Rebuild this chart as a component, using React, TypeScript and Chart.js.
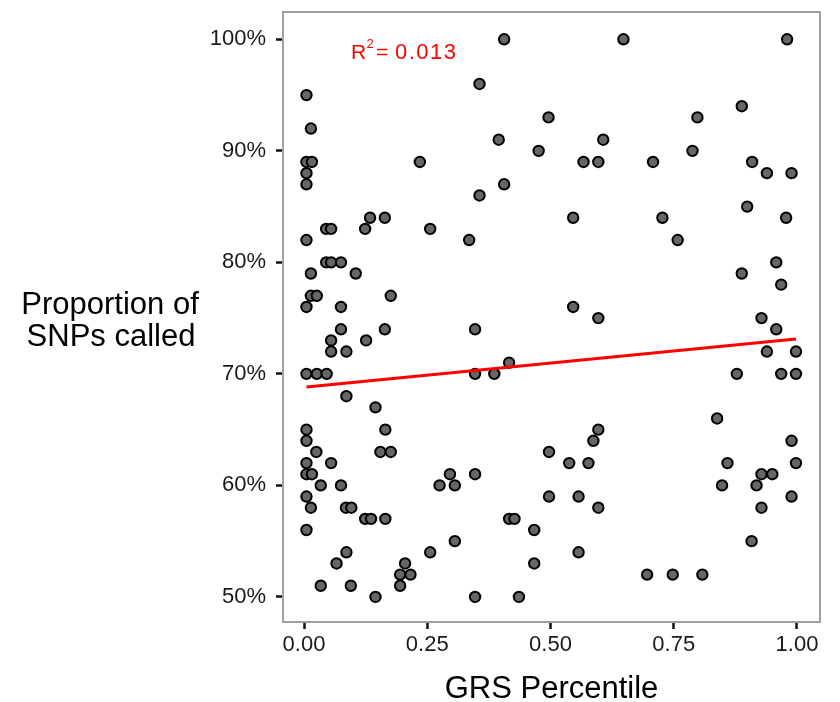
import React, { useEffect, useRef } from "react";
import { Chart, registerables } from "chart.js";

Chart.register(...registerables);

// GRS percentile (x) and proportion of SNPs called in % (y)
const grsPercentile: number[] = [
  0.406, 0.648, 0.98,
  0.356,
  0.005,
  0.888,
  0.496, 0.798,
  0.014,
  0.395, 0.607,
  0.476, 0.788,
  0.005, 0.016, 0.235, 0.567, 0.597, 0.708, 0.909,
  0.005, 0.939, 0.989,
  0.005, 0.406,
  0.356,
  0.899,
  0.134, 0.164, 0.546, 0.727, 0.978,
  0.045, 0.055, 0.124, 0.256,
  0.005, 0.335, 0.758,
  0.045, 0.055, 0.075, 0.958,
  0.014, 0.105, 0.888,
  0.968,
  0.014, 0.026, 0.176,
  0.005, 0.075, 0.546,
  0.597, 0.928,
  0.075, 0.164, 0.347, 0.958,
  0.055, 0.126,
  0.055, 0.086, 0.939, 0.998,
  0.416,
  0.005, 0.026, 0.046, 0.347, 0.386, 0.878, 0.968, 0.998,
  0.086,
  0.145,
  0.838,
  0.005, 0.165, 0.597,
  0.005, 0.587, 0.989,
  0.025, 0.155, 0.176, 0.497,
  0.005, 0.055, 0.538, 0.577, 0.859, 0.998,
  0.005, 0.016, 0.296, 0.347, 0.928, 0.95,
  0.034, 0.075, 0.275, 0.306, 0.848, 0.918,
  0.005, 0.497, 0.557, 0.989,
  0.014, 0.085, 0.096, 0.597, 0.928,
  0.124, 0.136, 0.165, 0.416, 0.427,
  0.005, 0.467,
  0.306, 0.908,
  0.086, 0.256, 0.557,
  0.066, 0.205, 0.467,
  0.195, 0.216, 0.696, 0.748, 0.808,
  0.034, 0.095, 0.195,
  0.145, 0.347, 0.436,
];

const snpsCalled: number[] = [
  100, 100, 100,
  96,
  95,
  94,
  93, 93,
  92,
  91, 91,
  90, 90,
  89, 89, 89, 89, 89, 89, 89,
  88, 88, 88,
  87, 87,
  86,
  85,
  84, 84, 84, 84, 84,
  83, 83, 83, 83,
  82, 82, 82,
  80, 80, 80, 80,
  79, 79, 79,
  78,
  77, 77, 77,
  76, 76, 76,
  75, 75,
  74, 74, 74, 74,
  73, 73,
  72, 72, 72, 72,
  71,
  70, 70, 70, 70, 70, 70, 70, 70,
  68,
  67,
  66,
  65, 65, 65,
  64, 64, 64,
  63, 63, 63, 63,
  62, 62, 62, 62, 62, 62,
  61, 61, 61, 61, 61, 61,
  60, 60, 60, 60, 60, 60,
  59, 59, 59, 59,
  58, 58, 58, 58, 58,
  57, 57, 57, 57, 57,
  56, 56,
  55, 55,
  54, 54, 54,
  53, 53, 53,
  52, 52, 52, 52, 52,
  51, 51, 51,
  50, 50, 50,
];

const xTicks: number[] = [0, 0.25, 0.5, 0.75, 1];
const yTicks: number[] = [50, 60, 70, 80, 90, 100];

// linear fit reported in the figure
const fitIntercept = 68.8;
const fitSlope = 4.33;
const rSquaredLabel = "0.013";

const xTitle = "GRS Percentile";
const yTitleLines: string[] = ["Proportion of", "SNPs called"];

const FONT = "'Liberation Sans', Arial, Helvetica, sans-serif";

export default function App() {
  const canvasRef = useRef<HTMLCanvasElement | null>(null);

  useEffect(() => {
    const canvas = canvasRef.current;
    if (!canvas) return;

    const points = grsPercentile.map((x, i) => ({ x, y: snpsCalled[i] }));
    const xMin = Math.min(...grsPercentile);
    const xMax = Math.max(...grsPercentile);
    const fitLine = [
      { x: xMin, y: fitIntercept + fitSlope * xMin },
      { x: xMax, y: fitIntercept + fitSlope * xMax },
    ];

    const decorPlugin = {
      id: "decor",
      afterDatasetsDraw(chart: any) {
        const { ctx, chartArea } = chart;
        ctx.save();
        // panel border
        ctx.strokeStyle = "#a0a0a0";
        ctx.lineWidth = 2;
        ctx.strokeRect(
          chartArea.left,
          chartArea.top,
          chartArea.right - chartArea.left,
          chartArea.bottom - chartArea.top
        );
        // R^2 annotation
        ctx.fillStyle = "#ff0000";
        ctx.textBaseline = "alphabetic";
        ctx.textAlign = "left";
        ctx.font = `21px ${FONT}`;
        ctx.fillText("R", 351, 59);
        ctx.font = `13px ${FONT}`;
        ctx.fillText("2", 366.5, 48);
        ctx.font = `21px ${FONT}`;
        ctx.fillText("=", 376, 59);
        ctx.font = `22px ${FONT}`;
        (ctx as any).letterSpacing = "1.5px";
        ctx.fillText(rSquaredLabel, 395, 59);
        (ctx as any).letterSpacing = "0px";
        // axis titles
        ctx.fillStyle = "#000000";
        ctx.font = `31px ${FONT}`;
        ctx.textAlign = "center";
        ctx.fillText(xTitle, (chartArea.left + chartArea.right) / 2, 698);
        ctx.fillText(yTitleLines[0], 110, 314);
        ctx.fillText(yTitleLines[1], 111, 346);
        ctx.restore();
      },
    };

    const chart = new Chart(canvas, {
      type: "scatter",
      data: {
        datasets: [
          {
            type: "line",
            data: fitLine,
            borderColor: "#ff0000",
            borderWidth: 3,
            pointRadius: 0,
            fill: false,
          } as any,
          {
            data: points,
            backgroundColor: "#666666",
            borderColor: "#000000",
            borderWidth: 2,
            pointRadius: 5.2,
            pointHoverRadius: 5.2,
          },
        ],
      },
      options: {
        responsive: false,
        animation: false,
        events: [],
        layout: { padding: { left: 0, top: 12, right: 20, bottom: 0 } },
        plugins: {
          legend: { display: false },
          tooltip: { enabled: false },
        },
        scales: {
          x: {
            type: "linear",
            min: -0.0426,
            max: 1.0467,
            afterBuildTicks: (scale: any) => {
              scale.ticks = xTicks.map((v) => ({ value: v }));
            },
            afterFit: (scale: any) => {
              scale.height = 80;
              scale.paddingLeft = 0;
              scale.paddingRight = 0;
            },
            ticks: {
              callback: (v: any) => Number(v).toFixed(2),
              color: "#1a1a1a",
              font: { family: FONT, size: 22 },
              padding: 3,
              maxRotation: 0,
              autoSkip: false,
            },
            grid: {
              display: true,
              drawOnChartArea: false,
              drawTicks: true,
              tickLength: 7,
              tickWidth: 2.5,
              tickColor: "#111111",
            },
            border: { display: false },
          },
          y: {
            type: "linear",
            min: 47.75,
            max: 102.45,
            afterBuildTicks: (scale: any) => {
              scale.ticks = yTicks.map((v) => ({ value: v }));
            },
            afterFit: (scale: any) => {
              scale.width = 283;
              scale.paddingTop = 0;
              scale.paddingBottom = 0;
            },
            ticks: {
              callback: (v: any) => `${v}%`,
              color: "#1a1a1a",
              font: { family: FONT, size: 22 },
              padding: 10,
              autoSkip: false,
            },
            grid: {
              display: true,
              drawOnChartArea: false,
              drawTicks: true,
              tickLength: 7,
              tickWidth: 2.5,
              tickColor: "#111111",
            },
            border: { display: false },
          },
        },
      },
      plugins: [decorPlugin],
    });

    return () => chart.destroy();
  }, []);

  return (
    <div style={{ position: "absolute", left: 0, top: 0, width: 840, height: 702, background: "#ffffff" }}>
      <canvas ref={canvasRef} width={840} height={702} style={{ display: "block" }} />
    </div>
  );
}
